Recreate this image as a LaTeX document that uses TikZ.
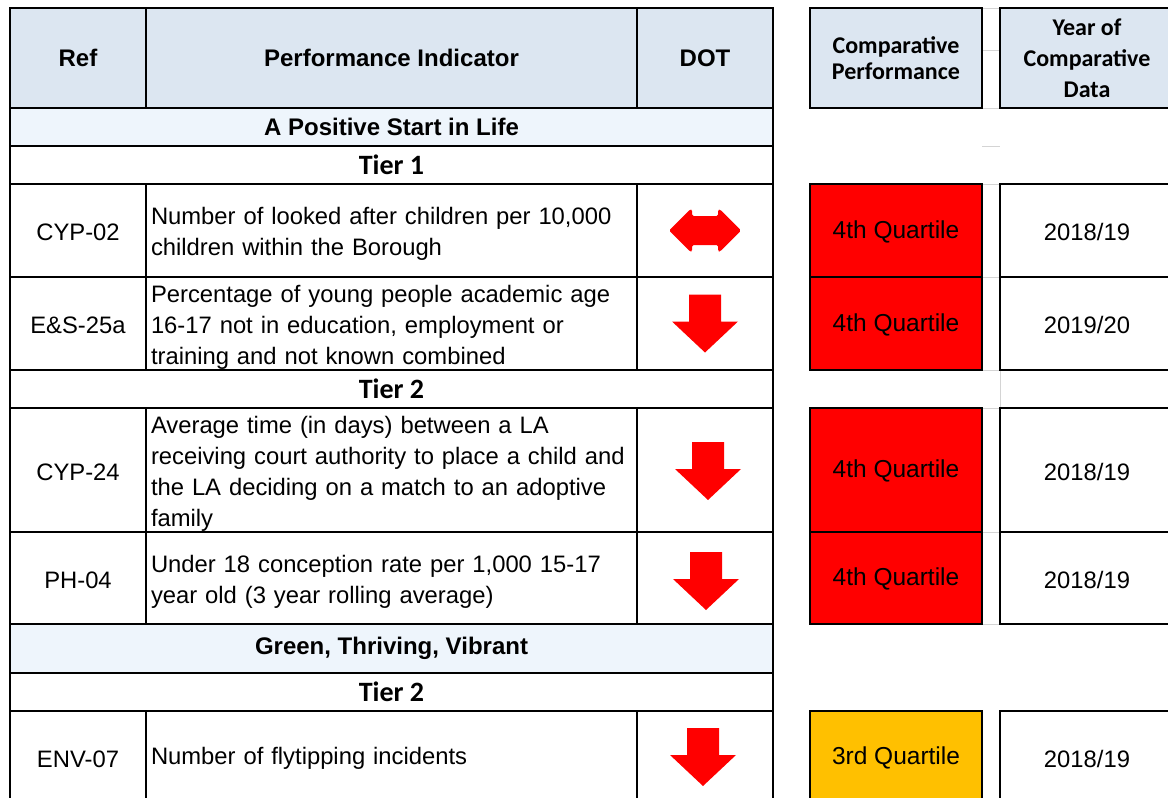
\documentclass[tikz,border=0pt]{standalone}
\usepackage{fontspec}
\setmainfont{Liberation Sans}
\newfontfamily\calibri{Carlito}
\definecolor{headblue}{HTML}{DCE6F1}
\definecolor{bandblue}{HTML}{EEF5FC}
\definecolor{dotred}{HTML}{FF0000}
\definecolor{amber}{HTML}{FFC000}
\definecolor{gridgrey}{HTML}{D4D4D4}
\tikzset{
  cellsize/.style 2 args={minimum width=#1pt, minimum height=#2pt},
  cell/.style={draw, line width=1.6pt, anchor=north west, outer sep=0pt, inner sep=0pt,
    align=center, font=\fontsize{23.8}{31}\selectfont},
  body/.style={execute at begin node={\rule{0pt}{#1pt}}},
  body/.default=20.5,
  head/.style={cell, fill=headblue, font=\fontsize{24}{31}\selectfont\bfseries},
  calhead/.style={font=\fontsize{24}{#1}\selectfont\calibri\bfseries},
  band/.style={cell, fill=bandblue, font=\fontsize{24}{31}\selectfont\bfseries},
  tier/.style={cell, font=\fontsize{28}{31}\selectfont\calibri\bfseries},
  pitext/.style={cell, align=left, text width=481pt, inner xsep=5pt},
  qfour/.style={cell, body, fill=dotred, font=\fontsize{24.5}{31}\selectfont},
  qthree/.style={cell, body, fill=amber, font=\fontsize{24.5}{31}\selectfont},
  gridline/.style={gridgrey, line width=1pt},
  dotdown/.pic={\fill[dotred] (-16,-29) -- (16,-29) -- (16,-2) -- (33,-2) -- (0,29) -- (-33,-2) -- (-16,-2) -- cycle;},
  dotboth/.pic={\fill[dotred, rounded corners=1.5pt] (-36,0) -- (-15,-21) -- (-13,-21) -- (-13,-14.5) -- (13,-14.5) -- (13,-21) -- (15,-21) -- (36,0)
      -- (15,21) -- (13,21) -- (13,14.5) -- (-13,14.5) -- (-13,21) -- (-15,21) -- cycle;}
}
\begin{document}
\begin{tikzpicture}[x=1pt, y=-1pt]
\useasboundingbox (0,0) rectangle (1168,798);

% faint sheet grid between the two blocks
\foreach \gy in {8,50,108,146,184,277,370,408,532,624}
  \draw[gridline] (982,\gy) -- (1000,\gy);
\draw[gridline] (1000,370) -- (1000,408);

% header
\node[head, cellsize={136}{100}] (href) at (10,8) {Ref};
\node[head, cellsize={491}{100}] (hpi) at (146,8) {Performance Indicator};
\node[head, cellsize={136}{100}] (hdot) at (637,8) {DOT};
\node[head, calhead=26, cellsize={172}{100}] (hcp) at (810,8) {Comparative\\Performance};
\node[head, calhead=31, cellsize={174}{100}] (hyr) at (1000,8) {Year of\\Comparative\\Data};

% a positive start in life
\node[band, cellsize={763}{38}] (band1) at (10,108) {A Positive Start in Life};
\node[tier, cellsize={763}{38}] (tier1) at (10,146) {Tier 1};

\node[cell, body, cellsize={136}{93}] (ref02) at (10,184) {CYP-02};
\node[pitext, body=24.5, cellsize={491}{93}] (pi02) at (146,184) {Number of looked after children per 10,000\\children within the Borough};
\node[cell, cellsize={136}{93}] (dot02) at (637,184) {};
\pic at (dot02.center) {dotboth};
\node[qfour, cellsize={172}{93}] (cp02) at (810,184) {4th Quartile};
\node[cell, body, cellsize={174}{93}] (yr02) at (1000,184) {2018/19};

\node[cell, body, cellsize={136}{93}] (ref25) at (10,277) {E\&S-25a};
\node[pitext, body=24.5, cellsize={491}{93}] (pi25) at (146,277) {Percentage of young people academic age\\16-17 not in education, employment or\\training and not known combined};
\node[cell, cellsize={136}{93}] (dot25) at (637,277) {};
\pic at (dot25.center) {dotdown};
\node[qfour, cellsize={172}{93}] (cp25) at (810,277) {4th Quartile};
\node[cell, body, cellsize={174}{93}] (yr25) at (1000,277) {2019/20};

\node[tier, cellsize={763}{38}] (tier2a) at (10,370) {Tier 2};

\node[cell, body, cellsize={136}{124}] (ref24) at (10,408) {CYP-24};
\node[pitext, body=24.5, cellsize={491}{124}] (pi24) at (146,408) {Average time (in days) between a LA\\receiving court authority to place a child and\\the LA deciding on a match to an adoptive\\family};
\node[cell, cellsize={136}{124}] (dot24) at (637,408) {};
\pic at ([shift={(3,1)}]dot24.center) {dotdown};
\node[qfour, cellsize={172}{124}] (cp24) at (810,408) {4th Quartile};
\node[cell, body, cellsize={174}{124}] (yr24) at (1000,408) {2018/19};

\node[cell, body, cellsize={136}{92}] (refph) at (10,532) {PH-04};
\node[pitext, body=24.5, cellsize={491}{92}] (piph) at (146,532) {Under 18 conception rate per 1,000 15-17\\year old (3 year rolling average)};
\node[cell, cellsize={136}{92}] (dotph) at (637,532) {};
\pic at ([shift={(1,3)}]dotph.center) {dotdown};
\node[qfour, cellsize={172}{92}] (cpph) at (810,532) {4th Quartile};
\node[cell, body, cellsize={174}{92}] (yrph) at (1000,532) {2018/19};

% green, thriving, vibrant
\node[band, cellsize={763}{49}] (band2) at (10,624) {Green, Thriving, Vibrant};
\node[tier, cellsize={763}{38}] (tier2b) at (10,673) {Tier 2};

\node[cell, body, cellsize={136}{92}] (refenv) at (10,711) {ENV-07};
\node[pitext, body, cellsize={491}{92}] (pienv) at (146,711) {Number of flytipping incidents};
\node[cell, cellsize={136}{92}] (dotenv) at (637,711) {};
\pic at ([shift={(-2,0)}]dotenv.center) {dotdown};
\node[qthree, cellsize={172}{92}] (cpenv) at (810,711) {3rd Quartile};
\node[cell, body, cellsize={174}{92}] (yrenv) at (1000,711) {2018/19};
\end{tikzpicture}
\end{document}
